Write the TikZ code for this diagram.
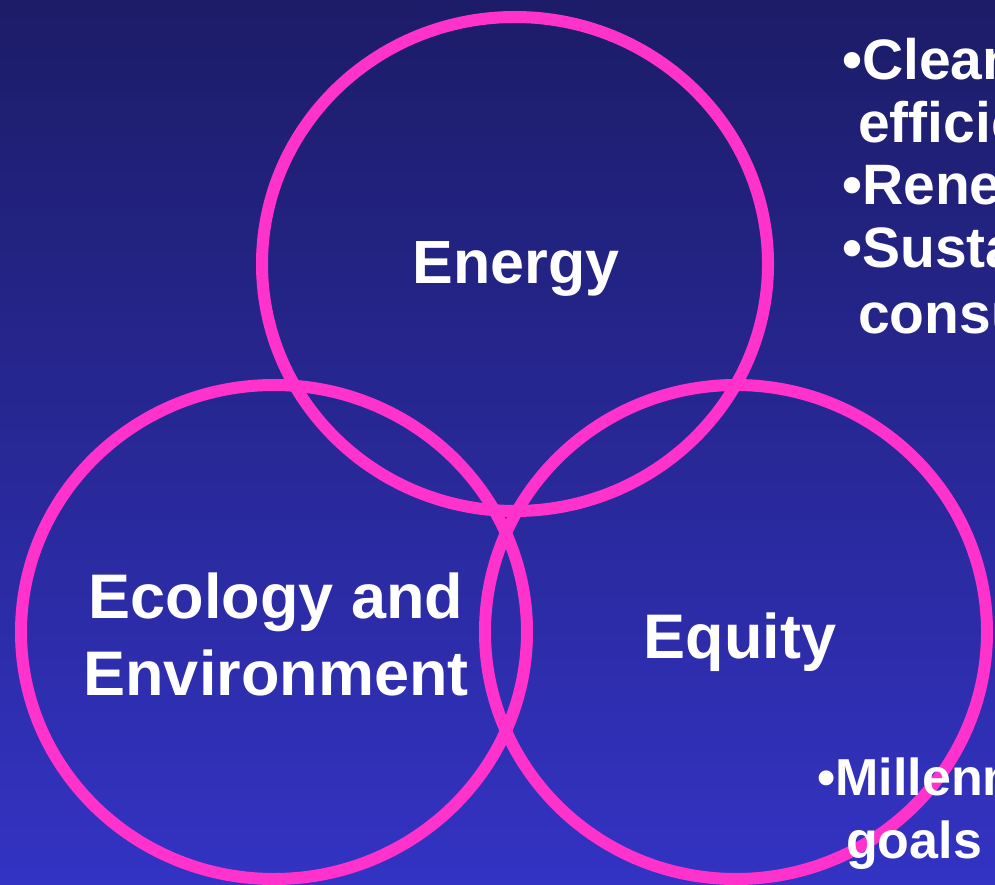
\documentclass[tikz,border=0pt]{standalone}
\usepackage{fontspec}
\setmainfont{Liberation Sans}
\usetikzlibrary{shapes.geometric}
\definecolor{bgtop}{RGB}{28,28,104}
\definecolor{bgbot}{RGB}{51,51,196}
\definecolor{ring}{RGB}{255,51,204}
\tikzset{
  ring/.style={draw=ring, line width=12pt, ellipse, inner sep=0pt},
  label/.style={text=white, font=\bfseries\fontsize{63}{66}\selectfont, align=center, inner sep=0pt},
  bullettext/.style={text=white, font=\bfseries\fontsize{57}{63}\selectfont, anchor=base west, inner sep=0pt},
}
\begin{document}
\begin{tikzpicture}[x=1pt, y=-1pt]
  \useasboundingbox (0,0) rectangle (995,885);
  \begin{scope}
    \clip (0,0) rectangle (995,885);
    % backdrop
    \shade[top color=bgtop, bottom color=bgbot] (0,0) rectangle (995,885);
    % the three overlapping rings
    \node[ring, minimum width=506pt, minimum height=494pt] (energy) at (515,264) {};
    \node[ring, minimum width=506pt, minimum height=494pt] (ecology) at (274,632) {};
    \node[ring, minimum width=502pt, minimum height=494pt] (equity) at (736,632) {};
    % ring titles
    \node[label, font=\bfseries\fontsize{61}{66}\selectfont, anchor=base] (tEnergy) at (516,283) {Energy};
    \node[label, anchor=base] (tEco1) at (276,618) {Ecology and};
    \node[label, anchor=base] (tEco2) at (276,695) {Environment};
    \node[label, anchor=base] (tEquity) at (740,658) {Equity};
    % side notes
    \node[bullettext] (n1) at (842,80) {•Cleaner and more};
    \node[bullettext] (n2) at (858,143) {efficient fossil fuels};
    \node[bullettext] (n3) at (842,205) {•Renewables};
    \node[bullettext] (n4) at (842,268) {•Sustainable};
    \node[bullettext] (n5) at (858,333) {consumption};
    \node[bullettext, font=\bfseries\fontsize{52}{60}\selectfont] (n6) at (817,795) {•Millennium development};
    \node[bullettext, font=\bfseries\fontsize{52}{60}\selectfont] (n7) at (846,858) {goals};
  \end{scope}
\end{tikzpicture}
\end{document}
